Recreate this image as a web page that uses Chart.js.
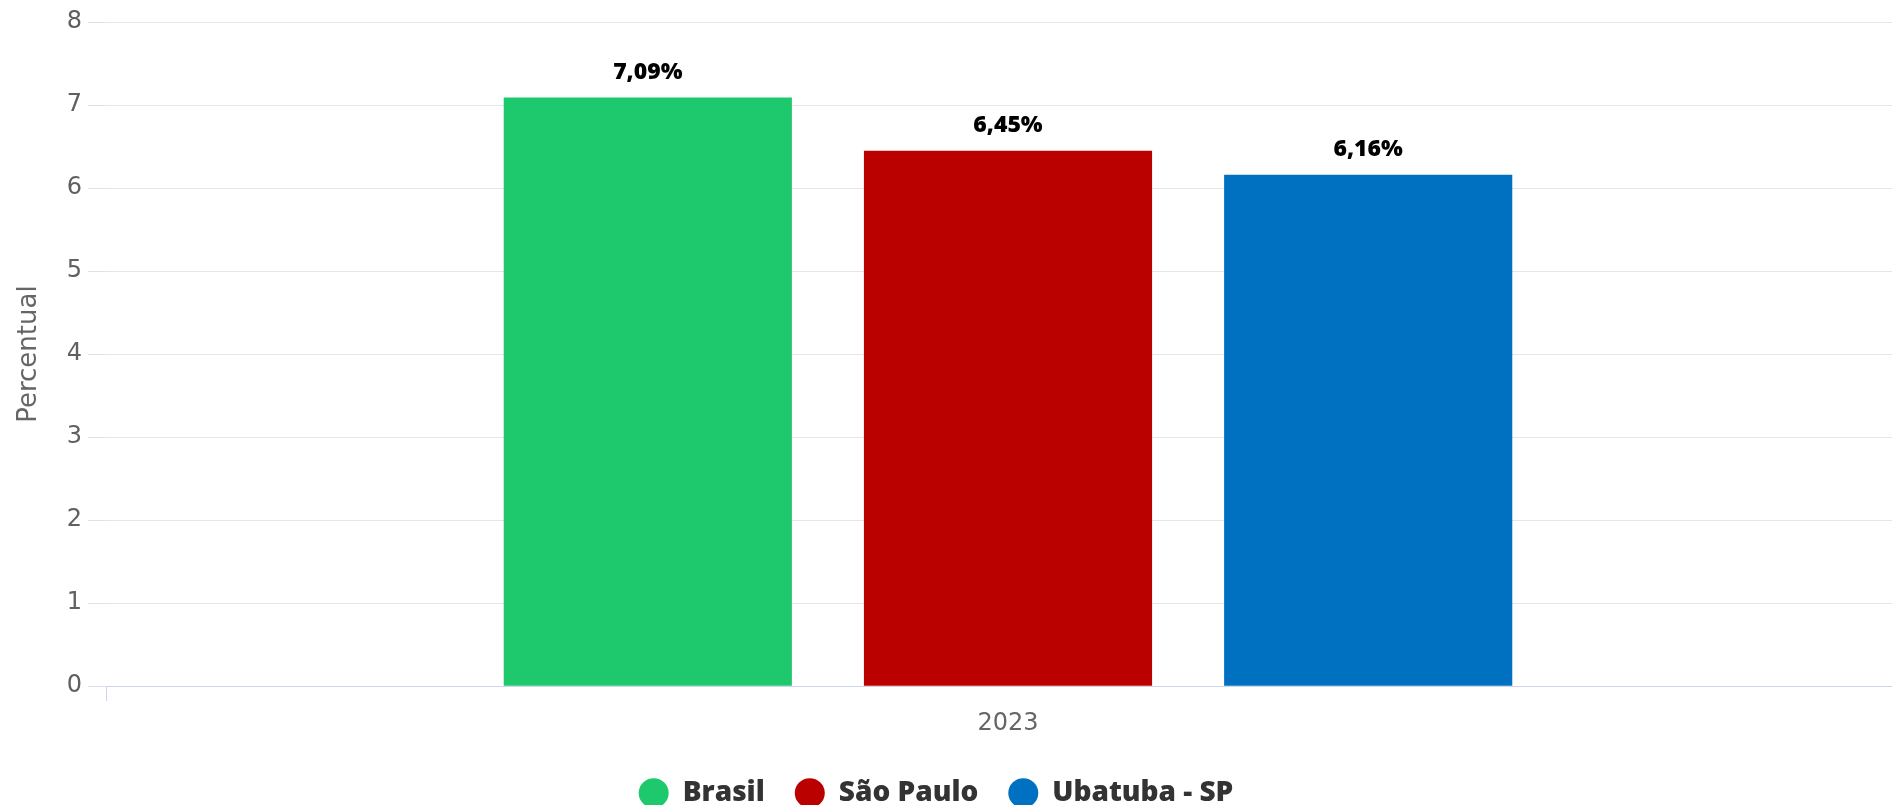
<!DOCTYPE html>
<html>
<head>
<meta charset="utf-8">
<script src="https://cdn.jsdelivr.net/npm/chart.js@4"></script>
<style>
  html, body { margin: 0; padding: 0; background: #ffffff; overflow: hidden; }
  #grafico { display: block; }
</style>
</head>
<body>
<canvas id="grafico" width="1910" height="805"></canvas>
<script>
// dados do gráfico
const anos = ["2023"];
const locais = ["Brasil", "São Paulo", "Ubatuba - SP"];
const valores = [7.09, 6.45, 6.16];
const cores = ["#1ec86c", "#bb0000", "#0070c0"];
const ticksY = [0, 1, 2, 3, 4, 5, 6, 7, 8];

const fonteEixo = "'DejaVu Sans', sans-serif";
const fonteNegrito = "'Open Sans', sans-serif";

// rótulos em cima das barras (7,09% etc)
const rotulosPlugin = {
    id: "rotulos",
    afterDatasetsDraw(chart) {
        const ctx = chart.ctx;
        ctx.save();
        ctx.font = "800 23px " + fonteNegrito;
        ctx.fillStyle = "#000000";
        ctx.textAlign = "center";
        ctx.textBaseline = "middle";
        chart.data.datasets.forEach((ds, i) => {
            const meta = chart.getDatasetMeta(i);
            meta.data.forEach((bar, j) => {
                const txt = ds.data[j].toFixed(2).replace(".", ",") + "%";
                ctx.fillText(txt, bar.x, bar.y - 25);
            });
        });
        ctx.restore();
    }
};

// legenda um pouco mais para a esquerda, como no original
const legendaPlugin = {
    id: "ajusteLegenda",
    afterLayout(chart) {
        chart.legend.left -= 19;
        chart.legend.right -= 19;
    }
};

const datasets = locais.map((nome, i) => ({
    label: nome,
    data: [valores[i]],
    backgroundColor: cores[i],
    borderWidth: 0,
    categoryPercentage: 0.599,
    barPercentage: 0.8
}));

new Chart(document.getElementById("grafico").getContext("2d"), {
    type: "bar",
    data: { labels: anos, datasets: datasets },
    options: {
        responsive: false,
        animation: false,
        layout: { padding: { top: 22, right: 0, left: 0, bottom: -12 } },
        plugins: {
            tooltip: { enabled: false },
            legend: {
                position: "bottom",
                labels: {
                    usePointStyle: true,
                    pointStyle: "circle",
                    boxHeight: 21,
                    pointStyleWidth: 30,
                    padding: 30,
                    color: "#333333",
                    font: { family: fonteNegrito, size: 28, weight: "800", lineHeight: 1 }
                }
            }
        },
        scales: {
            x: {
                grid: {
                    display: true,
                    drawOnChartArea: false,
                    drawTicks: true,
                    tickLength: 15,
                    color: "#ccd6eb"
                },
                border: { display: true, color: "#ccd6eb", width: 1 },
                ticks: {
                    color: "#666666",
                    padding: 8,
                    font: { family: fonteEixo, size: 24 }
                },
                afterFit: (axis) => {
                    axis.height += 3;
                }
            },
            y: {
                min: ticksY[0],
                max: ticksY[ticksY.length - 1],
                afterBuildTicks: (axis) => {
                    axis.ticks = ticksY.map(v => ({ value: v }));
                },
                afterFit: (axis) => {
                    axis.width = 106;
                },
                grid: {
                    color: "#e6e6e6",
                    tickColor: "#dde3ec",
                    tickLength: 18,
                    drawTicks: true
                },
                border: { display: false },
                ticks: {
                    color: "#606060",
                    padding: 6,
                    font: { family: fonteEixo, size: 24 }
                },
                title: {
                    display: true,
                    text: "Percentual",
                    color: "#666666",
                    padding: { top: 14, bottom: 0 },
                    font: { family: fonteEixo, size: 26 }
                }
            }
        }
    },
    plugins: [rotulosPlugin, legendaPlugin]
});
</script>
</body>
</html>
